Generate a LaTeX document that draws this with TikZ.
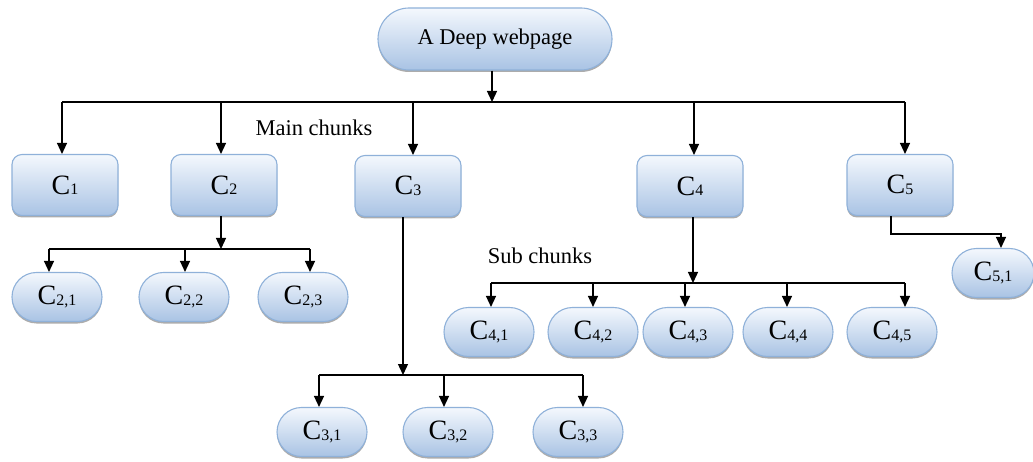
\documentclass[tikz,border=0pt]{standalone}
\usepackage{fontspec}
\setmainfont{Liberation Serif}
\usetikzlibrary{shapes.misc,arrows.meta,shadows}
\tikzset{
  base/.style={draw=boxborder, line width=1.1pt, top color=boxtop, bottom color=boxbot,
    drop shadow={shadow xshift=0pt, shadow yshift=-2pt, opacity=0.5, fill=gray!70!black},
    inner sep=0pt, font=\fontsize{28}{28}\selectfont},
  mainbox/.style={base, rectangle, rounded corners=10pt, minimum width=106pt, minimum height=61pt},
  pill/.style={base, rounded rectangle, minimum width=90pt, minimum height=49pt},
  toppill/.style={base, rounded rectangle, minimum width=234pt, minimum height=62pt, font=\fontsize{22.5}{22.5}\selectfont},
  lbl/.style={font=\fontsize{22.5}{22.5}\selectfont, inner sep=0pt},
  line/.style={line width=1.3pt, black},
  arr/.style={line, -{Triangle[length=11pt,width=10pt]}},
}
\definecolor{boxborder}{HTML}{8FB1D9}
\definecolor{boxtop}{HTML}{F4F8FD}
\definecolor{boxbot}{HTML}{A9C3E4}
\newcommand{\lab}[1]{C\raisebox{-0.5pt}{\fontsize{16}{16}\selectfont #1}}
\begin{document}
\begin{tikzpicture}[x=1pt,y=-1pt]
\useasboundingbox (0,0) rectangle (1033,462);
% top
\node[toppill] (top) at (495,39) {A Deep webpage};
% main chunks
\node[mainbox] (c1) at (65,185) {\lab{1}};
\node[mainbox] (c2) at (224,185) {\lab{2}};
\node[mainbox] (c3) at (408,186) {\lab{3}};
\node[mainbox] (c4) at (690,186) {\lab{4}};
\node[mainbox] (c5) at (900,185) {\lab{5}};
\node[lbl] (mainlbl) at (314,128) {Main chunks};
\node[lbl] (sublbl) at (540,256) {Sub chunks};
% sub chunks
\node[pill] (c21) at (57,297) {\lab{2,1}};
\node[pill] (c22) at (184,297) {\lab{2,2}};
\node[pill] (c23) at (303,297) {\lab{2,3}};
\node[pill] (c31) at (322,432) {\lab{3,1}};
\node[pill] (c32) at (448,432) {\lab{3,2}};
\node[pill] (c33) at (578,432) {\lab{3,3}};
\node[pill] (c41) at (489,332) {\lab{4,1}};
\node[pill] (c42) at (593,332) {\lab{4,2}};
\node[pill] (c43) at (688,332) {\lab{4,3}};
\node[pill] (c44) at (788,332) {\lab{4,4}};
\node[pill] (c45) at (892,332) {\lab{4,5}};
\node[pill, minimum width=82pt] (c51) at (993,273) {\lab{5,1}};
% bar 1
\coordinate (b0) at (492,102);
\coordinate (b1) at (62,102);
\coordinate (b2) at (221,102);
\coordinate (b3) at (413,102);
\coordinate (b4) at (694,102);
\coordinate (b5) at (905,102);
\draw[arr] (top.south -| b0) -- (b0);
\draw[line] (b1) -- (b5);
\foreach \b/\n in {b1/c1,b2/c2,b3/c3,b4/c4,b5/c5}
  \draw[arr] (\b) -- (\n.north -| \b);
% C2 subtree
\coordinate (s2) at (221,249);
\coordinate (s21) at (49,249);
\coordinate (s22) at (185,249);
\coordinate (s23) at (310,249);
\draw[arr] (c2.south -| s2) -- (s2);
\draw[line] (s21) -- (s23);
\foreach \b/\n in {s21/c21,s22/c22,s23/c23}
  \draw[arr] (\b) -- (\n.north -| \b);
% C3 subtree
\coordinate (s3) at (403,375);
\coordinate (s31) at (319,375);
\coordinate (s32) at (444,375);
\coordinate (s33) at (583,375);
\draw[arr] (c3.south -| s3) -- (s3);
\draw[line] (s31) -- (s33);
\foreach \b/\n in {s31/c31,s32/c32,s33/c33}
  \draw[arr] (\b) -- (\n.north -| \b);
% C4 subtree
\coordinate (s4) at (693,283);
\coordinate (s41) at (491,283);
\coordinate (s42) at (593,283);
\coordinate (s43) at (685,283);
\coordinate (s44) at (787,283);
\coordinate (s45) at (905,283);
\draw[arr] (c4.south -| s4) -- (s4);
\draw[line] (s41) -- (s45);
\foreach \b/\n in {s41/c41,s42/c42,s43/c43,s44/c44,s45/c45}
  \draw[arr] (\b) -- (\n.north -| \b);
% C5 subtree
\coordinate (s5a) at (891,234);
\coordinate (s5b) at (1001,234);
\draw[arr] (c5.south -| s5a) -- (s5a) -- (s5b) -- (c51.north -| s5b);
\end{tikzpicture}
\end{document}
